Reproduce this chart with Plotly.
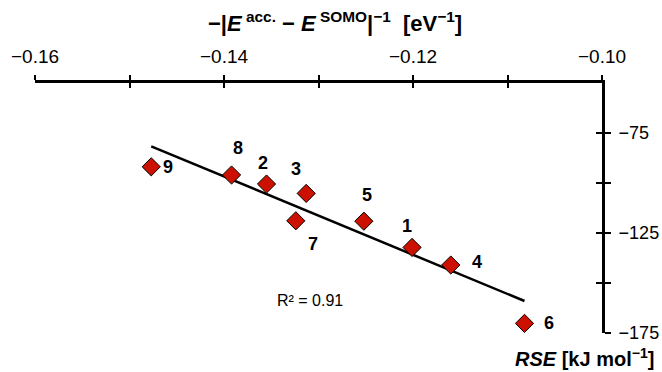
import numpy as np
import plotly.graph_objects as go

# Orbital energy gap term (x) vs. radical stabilisation energy (y)
labels = ["9", "8", "2", "3", "7", "5", "1", "4", "6"]
inv_gap = [-0.1477, -0.1392, -0.1355, -0.1313, -0.1324, -0.1252, -0.1201, -0.1160, -0.1082]
rse = [-91.9, -96.0, -100.5, -105.2, -118.9, -119.1, -132.2, -141.0, -170.2]

x_ticks = [-0.16, -0.15, -0.14, -0.13, -0.12, -0.11, -0.10]
x_ticktext = ["\u22120.16", "", "\u22120.14", "", "\u22120.12", "", "\u22120.10"]
y_ticks = [-175, -150, -125, -100, -75]
y_ticktext = ["\u2212175", "", "\u2212125", "", "\u221275"]

# label offsets in pixels (right, up)
label_dx = [17, 6, -4, -10, 17, 3, -5, 26, 24]
label_dy = [0, 27, 21, 24, -23, 26, 21, 3, 0]

FONT = "Liberation Sans, Arial, sans-serif"
RED = "#CC1100"

W, H = 662, 372
ML, MR, MT, MB = 35, 60, 83, 39
PW, PH = W - ML - MR, H - MT - MB


def px_to_paper(px, py):
    """Convert figure pixel position to plot-area paper coordinates."""
    return (px - ML) / PW, (H - MB - py) / PH


# least-squares trend line over the data range
xa = np.array(inv_gap)
ya = np.array(rse)
slope, intercept = np.polyfit(xa, ya, 1)
r2 = np.corrcoef(xa, ya)[0, 1] ** 2
xl = np.array([xa.min(), xa.max()])
yl = slope * xl + intercept

fig = go.Figure()
fig.add_trace(go.Scatter(x=xl, y=yl, mode="lines",
                         line=dict(color="black", width=2.5),
                         hoverinfo="skip", showlegend=False))
fig.add_trace(go.Scatter(x=inv_gap, y=rse, mode="markers",
                         marker=dict(symbol="diamond", size=14, color=RED,
                                     line=dict(color="black", width=1)),
                         showlegend=False))
# invisible trace on the overlay axes (inner tick halves)
fig.add_trace(go.Scatter(x=[inv_gap[0]], y=[rse[0]], xaxis="x2", yaxis="y2",
                         mode="markers", marker=dict(opacity=0),
                         hoverinfo="skip", showlegend=False))

annotations = []
for lab, x, y, dx, dy in zip(labels, inv_gap, rse, label_dx, label_dy):
    annotations.append(dict(x=x, y=y, xref="x", yref="y", text=f"<b>{lab}</b>",
                            showarrow=False, xshift=dx, yshift=dy,
                            font=dict(family=FONT, size=18, color="black")))

rx, ry = px_to_paper(310, 300)
annotations.append(dict(x=rx, y=ry, xref="paper", yref="paper",
                        text=f"R\u00b2 = {r2:.2f}", showarrow=False,
                        xanchor="center", yanchor="middle",
                        font=dict(family=FONT, size=16, color="black")))

tx, ty = px_to_paper(335, 22)
annotations.append(dict(x=tx, y=ty, xref="paper", yref="paper",
                        text="<b>\u2212|<i>E</i><sup> acc.</sup> \u2212 <i>E</i><sup> SOMO</sup>|<sup>\u22121</sup>  [eV<sup>\u22121</sup>]</b>",
                        showarrow=False, xanchor="center", yanchor="middle",
                        font=dict(family=FONT, size=22, color="black")))
yx, yy = px_to_paper(656, 357)
annotations.append(dict(x=yx, y=yy, xref="paper", yref="paper",
                        text="<b><i>RSE</i> [kJ mol<sup>\u22121</sup>]</b>",
                        showarrow=False, xanchor="right", yanchor="middle",
                        font=dict(family=FONT, size=20, color="black")))

axis_common = dict(showgrid=False, zeroline=False, showline=True,
                   linecolor="black", linewidth=3, tickcolor="black",
                   automargin=False)
overlay_common = dict(showticklabels=False, showgrid=False, zeroline=False,
                      showline=False, tickcolor="black", automargin=False,
                      tickmode="array", ticks="inside", tickwidth=2)

fig.update_layout(
    template="none",
    width=W, height=H,
    margin=dict(l=ML, r=MR, t=MT, b=MB, pad=0),
    paper_bgcolor="white", plot_bgcolor="white",
    showlegend=False,
    xaxis=dict(range=[-0.16, -0.10], side="top", anchor="y",
               tickmode="array", tickvals=x_ticks, ticktext=x_ticktext,
               ticks="outside", ticklen=5, tickwidth=2,
               ticklabelstandoff=4,
               tickfont=dict(family=FONT, size=19, color="black"),
               **axis_common),
    yaxis=dict(range=[-175, -50], side="right", anchor="x",
               tickmode="array", tickvals=y_ticks, ticktext=y_ticktext,
               ticks="outside", ticklen=6, tickwidth=2,
               ticklabelstandoff=4,
               tickfont=dict(family=FONT, size=18, color="black"),
               **axis_common),
    xaxis2=dict(range=[-0.16, -0.10], side="top", overlaying="x", anchor="y2",
                tickvals=x_ticks, ticklen=5, **overlay_common),
    yaxis2=dict(range=[-175, -50], side="right", overlaying="y", anchor="x2",
                tickvals=y_ticks, ticklen=6, **overlay_common),
    annotations=annotations,
)

fig.write_html("out.html")
